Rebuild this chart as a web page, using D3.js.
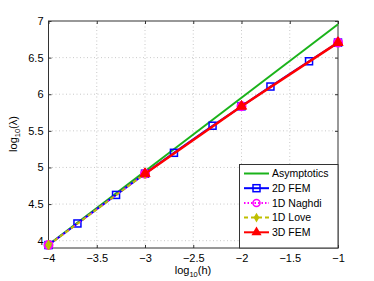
<!DOCTYPE html>
<html>
<head>
<meta charset="utf-8">
<script src="https://cdn.jsdelivr.net/npm/d3@7"></script>
<style>
  body { margin: 0; background: #fff; }
  svg { display: block; font-family: "Liberation Sans", Arial, sans-serif; }
</style>
</head>
<body>
<div id="chart"></div>
<script>
// DATA
const xTicks = [-4, -3.5, -3, -2.5, -2, -1.5, -1];
const yTicks = [4, 4.5, 5, 5.5, 6, 6.5, 7];

const asymX = [-4, -1];
const asymY = [3.945, 6.955];

const fem2dX = [-4, -3.7, -3.3, -3, -2.7, -2.3, -2, -1.7, -1.3, -1];
const fem2dY = [3.94, 4.235, 4.625, 4.915, 5.2, 5.57, 5.835, 6.105, 6.45, 6.705];

const naghdiX = [-4, -3, -2, -1];
const naghdiY = [3.94, 4.915, 5.835, 6.705];

const loveX = [-4, -3];
const loveY = [3.94, 4.915];

const fem3dX = [-3, -2, -1];
const fem3dY = [4.915, 5.835, 6.705];

const seriesNames = ["Asymptotics", "2D FEM", "1D Naghdi", "1D Love", "3D FEM"];

// LAYOUT
const width = 374, height = 281;
const margin = { top: 21, right: 36, bottom: 33, left: 48.5 };

const svg = d3.select("#chart").append("svg")
    .attr("width", width)
    .attr("height", height);

const x = d3.scaleLinear().domain([-4, -1]).range([margin.left, width - margin.right]);
const y = d3.scaleLinear().domain([3.9, 7]).range([height - margin.bottom, margin.top]);

// grid
svg.append("g")
    .selectAll("line")
    .data(xTicks.slice(1, -1))
    .join("line")
    .attr("x1", d => x(d)).attr("x2", d => x(d))
    .attr("y1", y.range()[0]).attr("y2", y.range()[1])
    .attr("stroke", "#bbb").attr("stroke-width", 0.8)
    .attr("stroke-dasharray", "1,2.5");

svg.append("g")
    .selectAll("line")
    .data(yTicks.slice(0, -1))
    .join("line")
    .attr("x1", x.range()[0]).attr("x2", x.range()[1])
    .attr("y1", d => y(d)).attr("y2", d => y(d))
    .attr("stroke", "#bbb").attr("stroke-width", 0.8)
    .attr("stroke-dasharray", "1,2.5");

// axes
const xAxis = svg.append("g")
    .attr("transform", `translate(0,${y.range()[0]})`)
    .call(d3.axisBottom(x).tickValues(xTicks).tickSizeInner(-3).tickSizeOuter(0)
        .tickPadding(6).tickFormat(d => d3.format("")(d).replace("-", "\u2212")));
xAxis.selectAll("text").attr("font-size", 11).attr("fill", "#000");

const yAxis = svg.append("g")
    .attr("transform", `translate(${x.range()[0]},0)`)
    .call(d3.axisLeft(y).tickValues(yTicks).tickSizeInner(-3).tickSizeOuter(0)
        .tickPadding(5).tickFormat(d3.format("")));
yAxis.selectAll("text").attr("font-size", 11).attr("fill", "#000");

// top / right ticks
svg.append("g")
    .attr("transform", `translate(0,${y.range()[1]})`)
    .call(d3.axisTop(x).tickValues(xTicks).tickSizeInner(-3).tickSizeOuter(0).tickFormat(""));
svg.append("g")
    .attr("transform", `translate(${x.range()[1]},0)`)
    .call(d3.axisRight(y).tickValues(yTicks).tickSizeInner(-3).tickSizeOuter(0).tickFormat(""));

svg.selectAll(".domain").remove();
svg.selectAll(".tick line").attr("stroke", "#333");

// box
svg.append("rect")
    .attr("x", x.range()[0]).attr("y", y.range()[1])
    .attr("width", x.range()[1] - x.range()[0])
    .attr("height", y.range()[0] - y.range()[1])
    .attr("fill", "none").attr("stroke", "#333").attr("stroke-width", 1);

// axis labels
const xl = svg.append("text")
    .attr("x", 193).attr("y", 274)
    .attr("text-anchor", "middle").attr("font-size", 11);
xl.append("tspan").text("log");
xl.append("tspan").attr("font-size", 7.5).attr("dy", 3).text("10");
xl.append("tspan").attr("dy", -3).text("(h)");

const yl = svg.append("text")
    .attr("transform", "translate(17,134) rotate(-90)")
    .attr("text-anchor", "middle").attr("font-size", 11);
yl.append("tspan").text("log");
yl.append("tspan").attr("font-size", 7.5).attr("dy", 3).text("10");
yl.append("tspan").attr("dy", -3).text("(\u03bb)");

// series
const line = d3.line().x(d => x(d[0])).y(d => y(d[1]));
const plot = svg.append("g");

const zip = (a, b) => a.map((v, i) => [v, b[i]]);

plot.append("path").datum(zip(asymX, asymY)).attr("d", line)
    .attr("fill", "none").attr("stroke", "#1ab31a").attr("stroke-width", 2);

plot.append("path").datum(zip(fem2dX, fem2dY)).attr("d", line)
    .attr("fill", "none").attr("stroke", "#0000ff").attr("stroke-width", 2);
plot.append("g").selectAll("rect").data(zip(fem2dX, fem2dY)).join("rect")
    .attr("x", d => x(d[0]) - 3.5).attr("y", d => y(d[1]) - 3.5)
    .attr("width", 7).attr("height", 7)
    .attr("fill", "none").attr("stroke", "#0000ff").attr("stroke-width", 1.5);

plot.append("path").datum(zip(naghdiX, naghdiY)).attr("d", line)
    .attr("fill", "none").attr("stroke", "#ff00ff").attr("stroke-width", 1.5)
    .attr("stroke-dasharray", "1.5,2");
plot.append("g").selectAll("circle").data(zip(naghdiX, naghdiY)).join("circle")
    .attr("cx", d => x(d[0])).attr("cy", d => y(d[1])).attr("r", 4)
    .attr("fill", "none").attr("stroke", "#ff00ff").attr("stroke-width", 2);

plot.append("path").datum(zip(loveX, loveY)).attr("d", line)
    .attr("fill", "none").attr("stroke", "#bfbf00").attr("stroke-width", 2)
    .attr("stroke-dasharray", "4,3");
const diamond = d3.symbol().type(d3.symbolDiamond).size(28);
plot.append("g").selectAll("path").data(zip(loveX, loveY)).join("path")
    .attr("transform", d => `translate(${x(d[0])},${y(d[1])})`)
    .attr("d", diamond)
    .attr("fill", "#bfbf00").attr("stroke", "#bfbf00").attr("stroke-width", 1);

plot.append("path").datum(zip(fem3dX, fem3dY)).attr("d", line)
    .attr("fill", "none").attr("stroke", "#ff0000").attr("stroke-width", 2.5);
const tri = d3.symbol().type(d3.symbolTriangle).size(45);
plot.append("g").selectAll("path").data(zip(fem3dX, fem3dY)).join("path")
    .attr("transform", d => `translate(${x(d[0])},${y(d[1])})`)
    .attr("d", tri)
    .attr("fill", "#ff0000").attr("stroke", "#ff0000").attr("stroke-width", 1);

// legend
const lx = 239.5, ly = 164.5, lw = x.range()[1] - lx, lh = y.range()[0] - ly;
const legend = svg.append("g");
legend.append("rect")
    .attr("x", lx).attr("y", ly).attr("width", lw).attr("height", lh)
    .attr("fill", "#fff").attr("stroke", "#333").attr("stroke-width", 1);

const legendStyles = [
    { color: "#1ab31a", dash: null, marker: null },
    { color: "#0000ff", dash: null, marker: "square" },
    { color: "#ff00ff", dash: "1.5,2", marker: "circle" },
    { color: "#bfbf00", dash: "4,3", marker: "diamond" },
    { color: "#ff0000", dash: null, marker: "triangle" }
];

seriesNames.forEach((name, i) => {
    const s = legendStyles[i];
    const cy = 173.5 + i * 14.7;
    const g = legend.append("g");
    g.append("line")
        .attr("x1", 244).attr("x2", 269).attr("y1", cy).attr("y2", cy)
        .attr("stroke", s.color).attr("stroke-width", 2)
        .attr("stroke-dasharray", s.dash);
    const mx = 256.5;
    if (s.marker === "square") {
        g.append("rect").attr("x", mx - 3.5).attr("y", cy - 3.5).attr("width", 7).attr("height", 7)
            .attr("fill", "none").attr("stroke", s.color).attr("stroke-width", 1.5);
    } else if (s.marker === "circle") {
        g.append("circle").attr("cx", mx).attr("cy", cy).attr("r", 3.5)
            .attr("fill", "none").attr("stroke", s.color).attr("stroke-width", 1.5);
    } else if (s.marker === "diamond") {
        g.append("path").attr("transform", `translate(${mx},${cy})`).attr("d", diamond)
            .attr("fill", s.color);
    } else if (s.marker === "triangle") {
        g.append("path").attr("transform", `translate(${mx},${cy})`).attr("d", tri)
            .attr("fill", s.color);
    }
    g.append("text").attr("x", 272).attr("y", cy + 3.8)
        .attr("font-size", 10.5).text(name);
});
</script>
</body>
</html>
